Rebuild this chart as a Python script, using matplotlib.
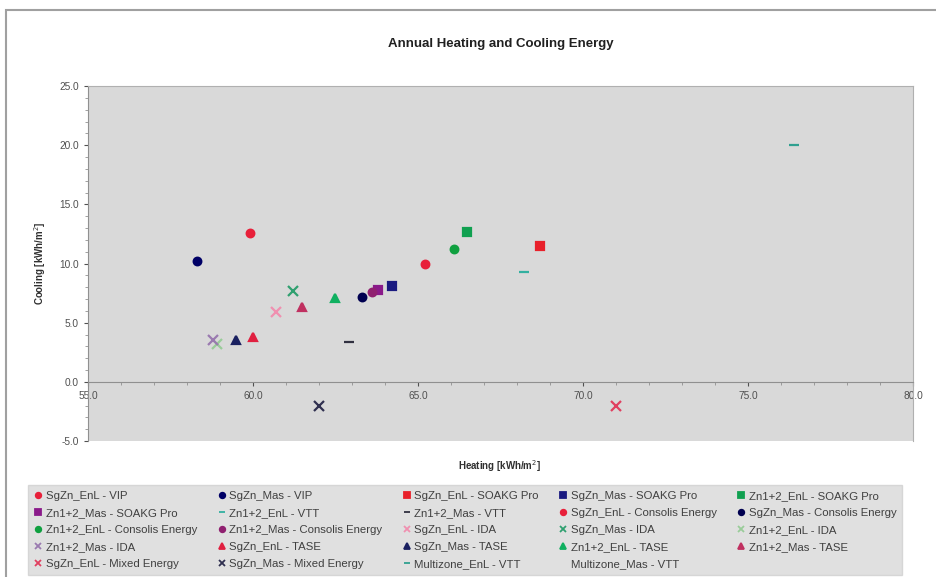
import numpy as np
import matplotlib.pyplot as plt
from matplotlib.patches import Rectangle
from matplotlib.lines import Line2D

plt.rcParams['font.family'] = ['Liberation Sans', 'DejaVu Sans']
plt.rcParams['axes.unicode_minus'] = False

# serie: nazwa, ogrzewanie, chlodzenie
names = [
    'SgZn_EnL - VIP', 'SgZn_Mas - VIP', 'SgZn_EnL - SOAKG Pro', 'SgZn_Mas - SOAKG Pro',
    'Zn1+2_EnL - SOAKG Pro', 'Zn1+2_Mas - SOAKG Pro', 'Zn1+2_EnL - VTT', 'Zn1+2_Mas - VTT',
    'SgZn_EnL - Consolis Energy', 'SgZn_Mas - Consolis Energy', 'Zn1+2_EnL - Consolis Energy',
    'Zn1+2_Mas - Consolis Energy', 'SgZn_EnL - IDA', 'SgZn_Mas - IDA', 'Zn1+2_EnL - IDA',
    'Zn1+2_Mas - IDA', 'SgZn_EnL - TASE', 'SgZn_Mas - TASE', 'Zn1+2_EnL - TASE',
    'Zn1+2_Mas - TASE', 'SgZn_EnL - Mixed Energy', 'SgZn_Mas - Mixed Energy',
    'Multizone_EnL - VTT', 'Multizone_Mas - VTT',
]
heating = [59.9, 58.3, 68.7, 64.2, 66.5, 63.8, 68.2, 62.9, 65.2, 63.3, 66.1, 63.6,
           60.7, 61.2, 58.9, 58.8, 60.0, 59.5, 62.5, 61.5, 71.0, 62.0, 76.4, None]
cooling = [12.6, 10.2, 11.5, 8.1, 12.7, 7.8, 9.3, 3.4, 10.0, 7.2, 11.2, 7.6,
           5.9, 7.7, 3.2, 3.5, 3.8, 3.5, 7.1, 6.3, -2.0, -2.0, 20.0, None]
markers = ['o', 'o', 's', 's', 's', 's', '_', '_', 'o', 'o', 'o', 'o',
           'x', 'x', 'x', 'x', '^', '^', '^', '^', 'x', 'x', '_', '']
colors = ['#e8203a', '#000066', '#e8202a', '#1a1a80', '#10a050', '#8a1a8a', '#33b0a0',
          '#303040', '#e8203a', '#000050', '#10a040', '#902070', '#f090b0', '#30a070',
          '#99cc99', '#9a7ab0', '#e02040', '#1a2060', '#10b060', '#c03060', '#e04060',
          '#303050', '#30a090', '#f0c060']

fig = plt.figure(figsize=(9.37, 5.77), dpi=100)
fig.patches.append(Rectangle((6 / 937, -0.05), 1.0, 1 - 10 / 577 + 0.05,
                             transform=fig.transFigure, fill=False,
                             edgecolor='#a0a0a0', lw=1.5))

ax = fig.add_axes([88 / 937, 1 - 441 / 577, (913 - 88) / 937, (441 - 86) / 577])
ax.set_facecolor('#d9d9d9')

handles = []
for n, x, y, m, c in zip(names, heating, cooling, markers, colors):
    if x is not None:
        ms = 7 if m in ('x', '_') else 5.5
        ax.plot([x], [y], linestyle='none', marker=m, color=c, ms=ms, mew=1.6)
    ms = 5 if m in ('x', '_') else 4
    handles.append(Line2D([], [], linestyle='none', marker=m, color=c, ms=ms, mew=1.3, label=n))

ax.set_xlim(55, 80)
ax.set_ylim(-5, 25)
ax.set_xticks(np.arange(55, 81, 5))
ax.set_yticks(np.arange(-5, 26, 5))
ax.set_xticks(np.arange(55, 81, 1), minor=True)
ax.set_yticks(np.arange(-5, 26, 1), minor=True)
ax.xaxis.set_major_formatter('{x:.1f}')
ax.yaxis.set_major_formatter('{x:.1f}')
ax.spines['bottom'].set_position(('data', 0))
for s in ['top', 'right']:
    ax.spines[s].set_color('#b0b0b0')
for s in ['left', 'bottom']:
    ax.spines[s].set_color('#909090')
ax.tick_params(labelsize=7.3, colors='#505050', length=3, width=0.8)
ax.tick_params(which='minor', length=2, color='#909090')

ax.set_title('Annual Heating and Cooling Energy', fontsize=9.5, fontweight='bold',
             color='#202020', pad=28)
ax.set_ylabel('Cooling [kWh/m$^2$]', fontsize=7, fontweight='bold', color='#303030', labelpad=8)
fig.text(500 / 937, 1 - 466 / 577, 'Heating [kWh/m$^2$]', fontsize=7, fontweight='bold',
         color='#303030', ha='center', va='center')

# kolejnosc wierszami jak w Excelu
order = [r * 5 + j for j in range(5) for r in range(5) if r * 5 + j < len(handles)]
leg = fig.legend([handles[i] for i in order], [names[i] for i in order],
                 ncol=5, loc='upper left', bbox_to_anchor=(28 / 937, 1 - 485 / 577),
                 fontsize=8.2, frameon=True, fancybox=False, facecolor='#d9d9d9',
                 edgecolor='#d0d0d0', handlelength=0.8, handletextpad=0.3,
                 columnspacing=1.7, labelspacing=0.63, borderpad=0.5, borderaxespad=0)
for t in leg.get_texts():
    t.set_color('#404040')

fig.savefig('out.png', dpi=100)
